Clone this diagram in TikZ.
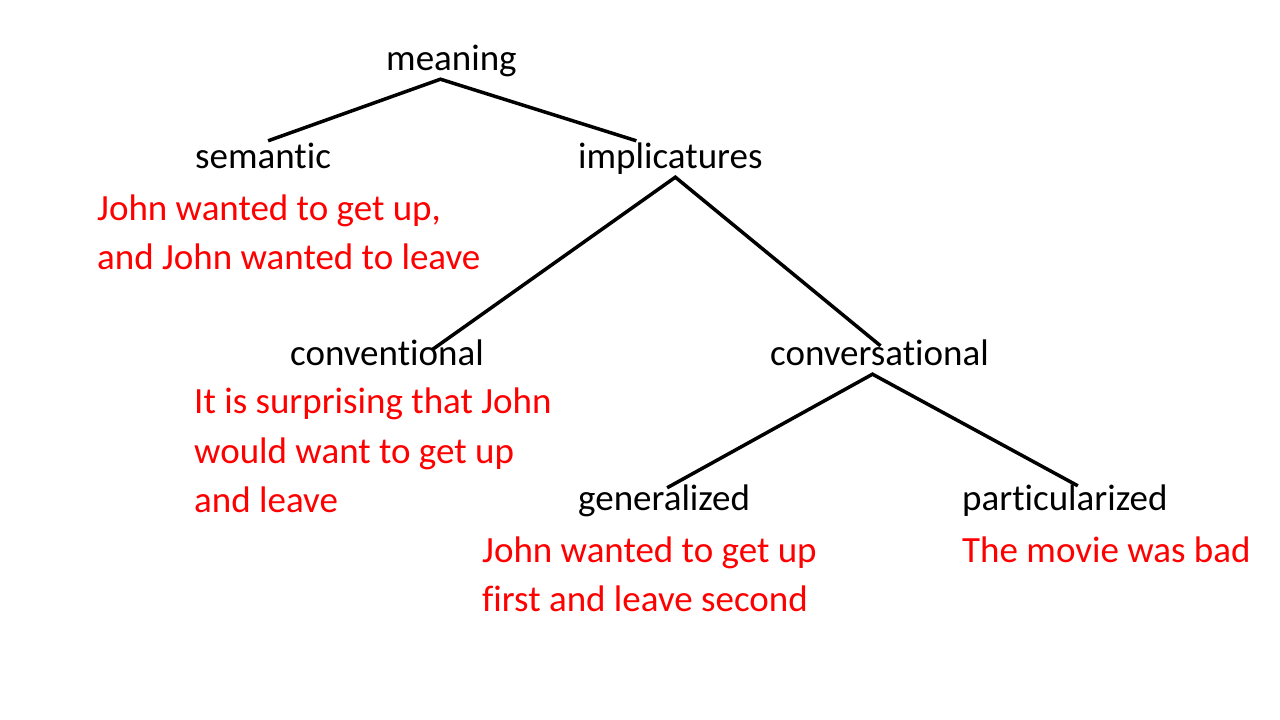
\documentclass[tikz,border=0pt]{standalone}
\usepackage{fontspec}
\setmainfont[Ligatures=NoCommon,RawFeature={-liga;-clig;-calt;-dlig}]{Carlito}
\definecolor{exred}{RGB}{255,0,0}
\begin{document}
\begin{tikzpicture}[x=1pt,y=-1pt,
  term/.style={anchor=base west,inner sep=0pt,text height=27pt,text depth=9pt,font=\fontsize{37}{44}\selectfont},
  example/.style={anchor=base west,inner sep=0pt,text=exred,font=\fontsize{37}{44}\selectfont},
  branch/.style={draw=black,line width=3.5pt}]
\useasboundingbox (0,0) rectangle (1280,720);
\node[term] (meaning) at (386,70) {meaning};
\node[term] (semantic) at (195,168) {semantic};
\node[term] (implicatures) at (578,168) {implicatures};
\node[example] (ex1a) at (97,220) {John wanted to get up,};
\node[example] (ex1b) at (97,269) {and John wanted to leave};
\node[term] (conventional) at (290,365) {conventional};
\node[term] (conversational) at (770,365) {conversational};
\node[example] (ex2a) at (194,413) {It is surprising that John};
\node[example] (ex2b) at (194,463) {would want to get up};
\node[example] (ex2c) at (194,512) {and leave};
\node[term] (generalized) at (578,510) {generalized};
\node[term] (particularized) at (962,510) {particularized};
\node[example] (ex3a) at (482,562) {John wanted to get up};
\node[example] (ex3b) at (482,611) {first and leave second};
\node[example] (ex4) at (962,562) {The movie was bad};
\draw[branch] ([xshift=5pt]semantic.north) -- ([xshift=-11pt]meaning.south) -- ([xshift=-34pt]implicatures.north);
\draw[branch] ([xshift=45pt,yshift=-12pt]conventional.north) -- ([xshift=5pt]implicatures.south) -- ([xshift=1pt,yshift=-8pt]conversational.north);
\draw[branch] ([xshift=3pt,yshift=-5pt]generalized.north) -- ([xshift=-7pt]conversational.south) -- ([xshift=13pt,yshift=-3pt]particularized.north);
\end{tikzpicture}
\end{document}
